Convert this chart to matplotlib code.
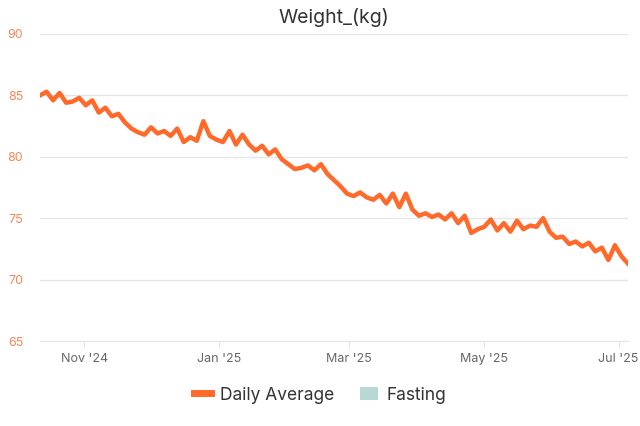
import numpy as np
import matplotlib
matplotlib.use('Agg')
import matplotlib.pyplot as plt
import matplotlib.dates as mdates
from matplotlib.lines import Line2D
from matplotlib.patches import Patch

plt.rcParams['font.family'] = 'Inter'

START = np.datetime64('2024-10-12T00', 'h')
STEP_HOURS = 71
weight = [
    85.0, 85.3, 84.6, 85.2, 84.4, 84.5, 84.8, 84.2, 84.6, 83.6,
    84.0, 83.3, 83.5, 82.8, 82.3, 82.0, 81.8, 82.4, 81.9, 82.1,
    81.7, 82.3, 81.2, 81.6, 81.3, 82.9, 81.7, 81.4, 81.2, 82.1,
    81.0, 81.8, 81.0, 80.5, 80.9, 80.2, 80.6, 79.8, 79.4, 79.0,
    79.1, 79.3, 78.9, 79.4, 78.6, 78.1, 77.6, 77.0, 76.8, 77.1,
    76.7, 76.5, 76.9, 76.2, 77.0, 75.9, 77.0, 75.7, 75.2, 75.4,
    75.1, 75.3, 74.9, 75.4, 74.6, 75.2, 73.8, 74.1, 74.3, 74.9,
    74.0, 74.6, 73.9, 74.8, 74.1, 74.4, 74.3, 75.0, 73.9, 73.4,
    73.5, 72.9, 73.1, 72.7, 73.0, 72.3, 72.6, 71.6, 72.8, 71.9,
    71.3,
]
dates = (START + np.arange(len(weight)) * np.timedelta64(STEP_HOURS, 'h')).astype(object)
y_ticks = [65, 70, 75, 80, 85, 90]

fig = plt.figure(figsize=(6.4, 4.26), dpi=100)
ax = fig.add_axes([40 / 640, 1 - 341 / 426, 588 / 640, 307 / 426])
ax.plot(dates, weight, color='#FF6A2B', linewidth=3.2, solid_joinstyle='round')

ax.set_ylim(65, 90)
ax.set_yticks(y_ticks)
ax.set_xlim(dates[0], dates[-1])
ax.xaxis.set_major_locator(mdates.MonthLocator(bymonth=[1, 3, 5, 7, 11]))
ax.xaxis.set_major_formatter(mdates.DateFormatter("%b '%y"))
ax.grid(axis='y', color='#e6e6e6', linewidth=1)
ax.set_axisbelow(True)
for s in ['top', 'right', 'left']:
    ax.spines[s].set_visible(False)
ax.spines['bottom'].set_color('#e6e6e6')
ax.tick_params(axis='y', length=0, labelsize=9, labelcolor='#F0885A', pad=12)
ax.tick_params(axis='x', length=5, color='#e6e6e6', labelsize=9, labelcolor='#666666')

ax.set_title('Weight_(kg)', fontsize=14, color='#333333', pad=8)

handles = [Line2D([0], [0], color='#FF6A2B', linewidth=5),
           Patch(facecolor='#B8D8D6', edgecolor='none')]
fig.legend(handles, ['Daily Average', 'Fasting'], loc='center', bbox_to_anchor=(0.5, 1 - 395 / 426),
           ncol=2, frameon=False, fontsize=12.5, handlelength=1.0, handletextpad=0.5,
           columnspacing=1.5, labelcolor='#333333')

fig.savefig('out.png', dpi=100)
